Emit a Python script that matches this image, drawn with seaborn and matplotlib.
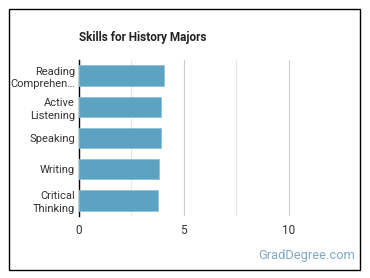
import pandas as pd
import matplotlib.pyplot as plt
import seaborn as sns

# Skill scores
skills = ["Reading\nComprehen…", "Active\nListening", "Speaking", "Writing", "Critical\nThinking"]
scores = [4.05, 3.92, 3.92, 3.82, 3.78]

df = pd.DataFrame({"Skill": skills, "Score": scores})

sns.set_theme(style="white")
plt.rcParams["font.family"] = ["Roboto", "DejaVu Sans"]

fig = plt.figure(figsize=(3.7, 2.78), dpi=100)
# outer frame of the card
fig.patches.append(plt.Rectangle((8.5 / 370, 8.5 / 278), 351 / 370, 261 / 278,
                                 transform=fig.transFigure, fill=False,
                                 edgecolor="black", linewidth=1.0))

ax = fig.add_axes([79 / 370, 1 - 216 / 278, 262 / 370, 156 / 278])
sns.barplot(data=df, x="Score", y="Skill", color="#5ba3c1", saturation=1,
            width=0.65, edgecolor="#8fc1d6", linewidth=0.6, ax=ax, zorder=3)

ax.set_xlim(0, 12.5)
ax.set_xticks([0, 5, 10])
ax.set_xticks([2.5, 7.5], minor=True)
ax.grid(axis="x", which="major", color="#cccccc", linewidth=0.8, zorder=0)
ax.grid(axis="x", which="minor", color="#e6e6e6", linewidth=0.8, zorder=0)
ax.set_axisbelow(True)

for side in ["top", "right", "bottom"]:
    ax.spines[side].set_visible(False)
ax.spines["left"].set_color("black")
ax.spines["left"].set_linewidth(1)

ax.set_xlabel("")
ax.set_ylabel("")
ax.tick_params(axis="both", length=0, labelsize=8, labelcolor="#333333")
ax.tick_params(axis="x", pad=6, labelsize=8.5)
ax.tick_params(axis="y", pad=3)
for lbl in ax.get_yticklabels():
    lbl.set_horizontalalignment("right")
    lbl.set_multialignment("right")
    lbl.set_linespacing(1.35)

fig.text(79 / 370, 1 - 37 / 278, "Skills for History Majors", fontsize=8.5,
         fontweight="bold", color="#222222", va="center", ha="left")
fig.text(355 / 370, 1 - 256 / 278, "GradDegree.com", fontsize=9.3,
         color="#7fa9c6", va="center", ha="right")

fig.savefig("out.png", dpi=100)
